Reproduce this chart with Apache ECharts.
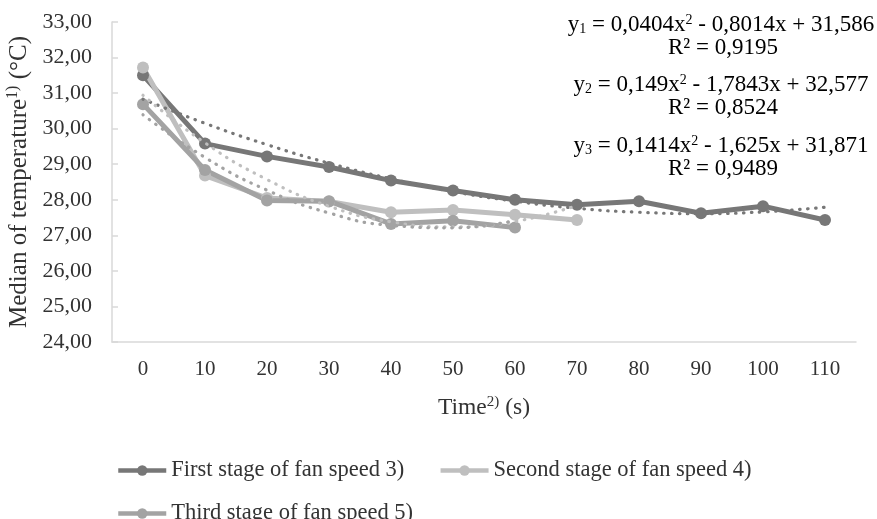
<!DOCTYPE html>
<html>
<head>
<meta charset="utf-8">
<script src="https://cdn.jsdelivr.net/npm/echarts@6/dist/echarts.min.js"></script>
<style>
html, body { margin: 0; padding: 0; background: #fff; }
#main { width: 877px; height: 519px; }
</style>
</head>
<body>
<div id="main"></div>
<script>
var times = ['0', '10', '20', '30', '40', '50', '60', '70', '80', '90', '100', '110'];
var seriesNames = ['First stage of fan speed 3)', 'Second stage of fan speed 4)', 'Third stage of fan speed 5)'];
var firstStage = [31.50, 29.58, 29.22, 28.92, 28.54, 28.26, 28.00, 27.86, 27.96, 27.62, 27.82, 27.43];
var secondStage = [31.72, 28.68, 28.05, 27.95, 27.65, 27.71, 27.58, 27.43];
var thirdStage = [30.69, 28.84, 27.98, 27.96, 27.32, 27.41, 27.22];
// trendlines
var firstTrend = [30.83, 30.15, 29.55, 29.03, 28.59, 28.23, 27.96, 27.76, 27.65, 27.61, 27.66, 27.79];
var secondTrend = [30.94, 29.60, 28.57, 27.82, 27.38, 27.24, 27.39, 27.84];
var thirdTrend = [30.39, 29.19, 28.27, 27.63, 27.28, 27.21, 27.42];
var equations = [
    ['0,0404', '0,8014', '31,586', '0,9195'],
    ['0,149', '1,7843', '32,577', '0,8524'],
    ['0,1414', '1,625', '31,871', '0,9489']
];

var colors = ['#777777', '#bfbfbf', '#a3a3a3'];
var font = 'Liberation Serif';
var txt = '#333333';

var chart = echarts.init(document.getElementById('main'));

function dataLine(name, data, color) {
    return {
        name: name,
        type: 'line',
        data: data,
        symbol: 'circle',
        symbolSize: 12,
        z: 2,
        lineStyle: { color: color, width: 5 },
        itemStyle: { color: color }
    };
}

function trendLine(data, color) {
    return {
        type: 'line',
        data: data,
        smooth: true,
        symbol: 'none',
        silent: true,
        z: 3,
        lineStyle: { color: color, width: 3.2, type: [0.5, 7.5], cap: 'round' }
    };
}

function richSet(size, lh) {
    return {
        v: { fontFamily: font, fontSize: size, color: txt, lineHeight: lh },
        sub: { fontFamily: font, fontSize: Math.round(size * 0.62), color: txt, lineHeight: lh, verticalAlign: 'bottom', padding: [7, 0, 0, 0] },
        sup: { fontFamily: font, fontSize: Math.round(size * 0.62), color: txt, lineHeight: lh, verticalAlign: 'top', padding: [0, 0, 7, 0] }
    };
}
var eqRich = richSet(23, 23);
var xNameRich = richSet(23.5, 26);
var yNameRich = richSet(25, 28);

var graphics = [];
var eqMid = [25, 85, 146];
equations.forEach(function (e, i) {
    graphics.push({
        type: 'text', x: 721, y: eqMid[i],
        style: {
            text: '{v|y}{sub|' + (i + 1) + '}{v| = ' + e[0] + 'x}{sup|2}{v| - ' + e[1] + 'x + ' + e[2] + '}',
            rich: eqRich, align: 'center', verticalAlign: 'middle'
        }
    });
    graphics.push({
        type: 'text', x: 723, y: eqMid[i] + 23,
        style: { text: '{v|R² = ' + e[3] + '}', rich: eqRich, align: 'center', verticalAlign: 'middle' }
    });
});

var option = {
    animation: false,
    grid: { left: 112, right: 21, top: 22, bottom: 177, containLabel: false, outerBoundsMode: 'none' },
    legend: {
        data: seriesNames,
        left: 111,
        top: 454,
        itemWidth: 48,
        itemHeight: 13,
        itemGap: 20,
        lineStyle: { width: 4.5 },
        textStyle: { fontFamily: font, fontSize: 22.5, lineHeight: 23, color: txt, padding: [0, 14, 0, 0] }
    },
    xAxis: {
        type: 'category',
        data: times,
        name: '{v|Time}{sup|2)}{v| (s)}',
        nameLocation: 'middle',
        nameGap: 53,
        nameTextStyle: { rich: xNameRich },
        axisLine: { lineStyle: { color: '#d9d9d9', width: 1.5 } },
        axisTick: { inside: true, length: 6, lineStyle: { color: '#d9d9d9', width: 1.5 } },
        axisLabel: { fontFamily: font, fontSize: 21, color: txt, margin: 17 }
    },
    yAxis: {
        type: 'value',
        min: 24,
        max: 33,
        interval: 1,
        name: '{v|Median of temperature}{sup|1)}{v| (°C)}',
        nameLocation: 'middle',
        nameGap: 78,
        nameTextStyle: { rich: yNameRich },
        axisLine: { show: true, lineStyle: { color: '#d9d9d9', width: 1.5 } },
        axisTick: { show: true, inside: true, length: 6, lineStyle: { color: '#d9d9d9', width: 1.5 } },
        splitLine: { show: false },
        axisLabel: {
            fontFamily: font, fontSize: 22, color: txt, margin: 20,
            formatter: function (v) { return v.toFixed(2).replace('.', ','); }
        }
    },
    series: [
        dataLine(seriesNames[0], firstStage, colors[0]),
        dataLine(seriesNames[1], secondStage, colors[1]),
        dataLine(seriesNames[2], thirdStage, colors[2]),
        trendLine(firstTrend, colors[0]),
        trendLine(secondTrend, colors[1]),
        trendLine(thirdTrend, colors[2])
    ],
    graphic: graphics
};
chart.setOption(option);
</script>
</body>
</html>
